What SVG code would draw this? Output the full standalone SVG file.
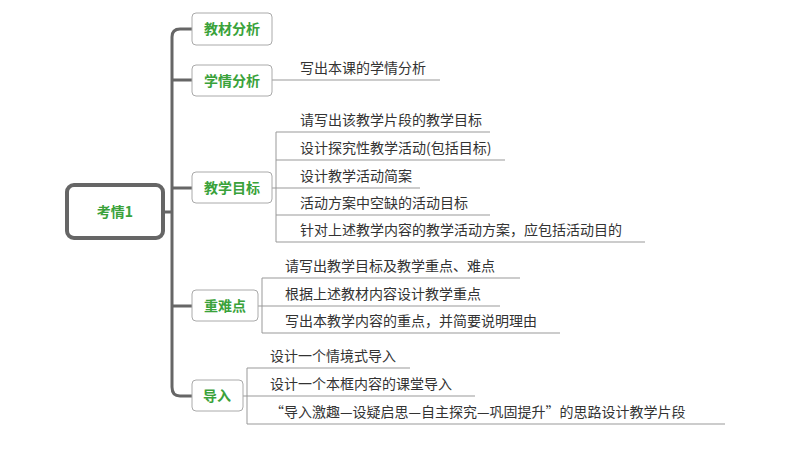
<svg xmlns="http://www.w3.org/2000/svg" width="800" height="450" viewBox="0 0 800 450">
<style>
.t{font-family:"Noto Sans CJK SC","Liberation Sans",sans-serif;font-size:14px;fill:#333}
.g{font-family:"Noto Sans CJK SC","Liberation Sans",sans-serif;font-size:14px;font-weight:bold;fill:#3aa23a;text-anchor:middle}
.b{fill:#fff;stroke:#aaa;stroke-width:1}
.l{fill:none;stroke:#999;stroke-width:1}
.tr{fill:none;stroke:#666;stroke-width:3}
</style>
<rect width="800" height="450" fill="#fff"/>
<g id="connectors">
<path class="tr" d="M163 212 H172 M192 29 H180 Q172 29 172 37 V387 Q172 396 180 396 H192 M172 80 H192 M172 188 H192 M172 306 H192"/>
<path class="l" d="M272 80 H440"/>
<path class="l" d="M272 188 H276 M490 132 H276 V242 H645 M276 160 H505 M276 188 H420 M276 215 H490"/>
<path class="l" d="M258 306 H262 M520 278 H262 V333 H560 M262 306 H500"/>
<path class="l" d="M243 396 H247 M410 368 H247 V424 H725 M247 396 H475"/>
</g>
<g id="root"><rect x="67" y="185" width="96" height="53" rx="7" fill="#fff" stroke="#666" stroke-width="4"/><text class="g" x="115" y="217" font-size="15">考情1</text></g>
<g id="n1"><rect class="b" x="192" y="13" width="80" height="32" rx="4"/><text class="g" x="232" y="34">教材分析</text></g>
<g id="n2"><rect class="b" x="192" y="65" width="80" height="31" rx="4"/><text class="g" x="232" y="86">学情分析</text><text class="t" x="300" y="73">写出本课的学情分析</text></g>
<g id="n3"><rect class="b" x="192" y="172" width="80" height="31" rx="4"/><text class="g" x="232" y="193">教学目标</text>
<text class="t" x="300" y="125">请写出该教学片段的教学目标</text>
<text class="t" x="300" y="153">设计探究性教学活动(包括目标)</text>
<text class="t" x="300" y="181">设计教学活动简案</text>
<text class="t" x="300" y="208">活动方案中空缺的活动目标</text>
<text class="t" x="300" y="235">针对上述教学内容的教学活动方案，应包括活动目的</text></g>
<g id="n4"><rect class="b" x="192" y="290" width="66" height="31" rx="4"/><text class="g" x="225" y="311">重难点</text>
<text class="t" x="285" y="271">请写出教学目标及教学重点、难点</text>
<text class="t" x="285" y="299">根据上述教材内容设计教学重点</text>
<text class="t" x="285" y="326">写出本教学内容的重点，并简要说明理由</text></g>
<g id="n5"><rect class="b" x="192" y="380" width="51" height="31" rx="4"/><text class="g" x="217" y="401">导入</text>
<text class="t" x="270" y="361">设计一个情境式导入</text>
<text class="t" x="270" y="389">设计一个本框内容的课堂导入</text>
<text class="t" x="270" y="417">“导入激趣—设疑启思—自主探究—巩固提升”的思路设计教学片段</text></g>
</svg>
